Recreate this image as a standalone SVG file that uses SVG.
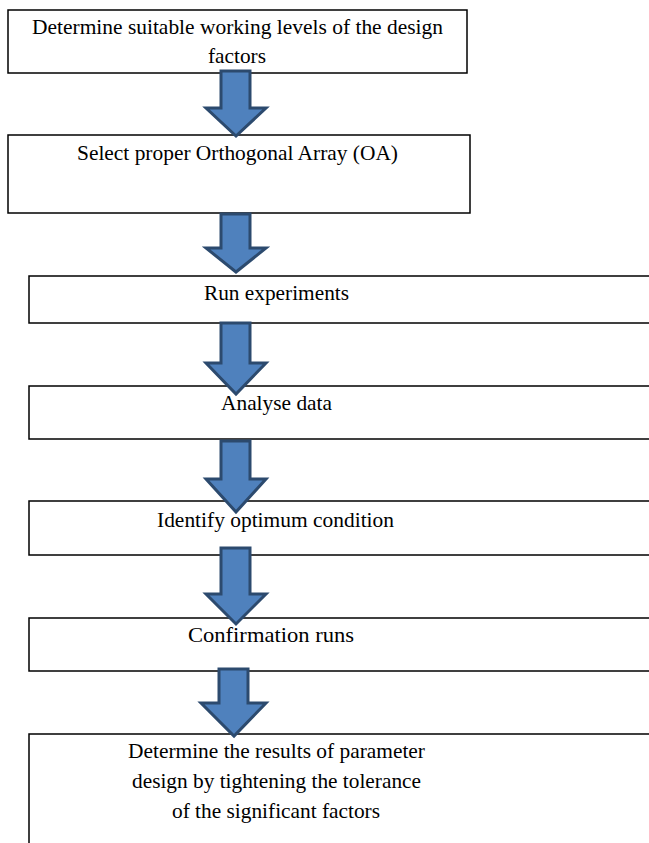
<svg xmlns="http://www.w3.org/2000/svg" width="649" height="843" viewBox="0 0 649 843">
<style>
.box{fill:#fff;stroke:#000;stroke-width:1.5}
.t{font-family:'Liberation Serif','Times New Roman','DejaVu Serif',serif;font-size:21px;fill:#000;text-anchor:middle}
.arr{fill:#4F81BD;stroke:#2C4A6E;stroke-width:3;stroke-linejoin:miter}
</style>
<rect width="649" height="843" fill="#fff"/>
<g id="n1"><rect class="box" x="8" y="10" width="459" height="63"/>
<text class="t" font-family="Liberation Serif, serif" x="237.5" y="34" textLength="411" lengthAdjust="spacingAndGlyphs">Determine suitable working levels of the design</text>
<text class="t" font-family="Liberation Serif, serif" x="237" y="63" textLength="58" lengthAdjust="spacingAndGlyphs">factors</text></g>
<g id="n2"><rect class="box" x="8" y="135" width="462" height="78"/>
<text class="t" font-family="Liberation Serif, serif" x="237.5" y="160" textLength="321" lengthAdjust="spacingAndGlyphs">Select proper Orthogonal Array (OA)</text></g>
<g id="n3"><rect class="box" x="29" y="276" width="630" height="47"/>
<text class="t" font-family="Liberation Serif, serif" x="276.5" y="300" textLength="145" lengthAdjust="spacingAndGlyphs">Run experiments</text></g>
<g id="n4"><rect class="box" x="29" y="386" width="630" height="53"/>
<text class="t" font-family="Liberation Serif, serif" x="276.5" y="410" textLength="111" lengthAdjust="spacingAndGlyphs">Analyse data</text></g>
<g id="n5"><rect class="box" x="29" y="501" width="630" height="54"/>
<text class="t" font-family="Liberation Serif, serif" x="275.5" y="527" textLength="237" lengthAdjust="spacingAndGlyphs">Identify optimum condition</text></g>
<g id="n6"><rect class="box" x="29" y="618" width="630" height="53"/>
<text class="t" font-family="Liberation Serif, serif" x="271" y="642" textLength="166" lengthAdjust="spacingAndGlyphs">Confirmation runs</text></g>
<g id="n7"><rect class="box" x="29" y="734" width="630" height="120"/>
<text class="t" font-family="Liberation Serif, serif" x="276.5" y="758" textLength="297" lengthAdjust="spacingAndGlyphs">Determine the results of parameter</text>
<text class="t" font-family="Liberation Serif, serif" x="276.5" y="788" textLength="289" lengthAdjust="spacingAndGlyphs">design by tightening the tolerance</text>
<text class="t" font-family="Liberation Serif, serif" x="276" y="818" textLength="208" lengthAdjust="spacingAndGlyphs">of the significant factors</text></g>
<g id="connectors">
<polygon class="arr" points="221,71 250,71 250,108 266,108 236,136 206,108 221,108"/>
<polygon class="arr" points="221,214 250,214 250,248 266,248 236,272 206,248 221,248"/>
<polygon class="arr" points="221,323 250,323 250,363 266,363 236,394 206,363 221,363"/>
<polygon class="arr" points="221,441 250,441 250,479 266,479 236,512 206,479 221,479"/>
<polygon class="arr" points="221,548 250,548 250,594 266,594 236,624 206,594 221,594"/>
<polygon class="arr" points="219,669 248,669 248,703 266,703 234,736 201,703 219,703"/>
</g>
</svg>
